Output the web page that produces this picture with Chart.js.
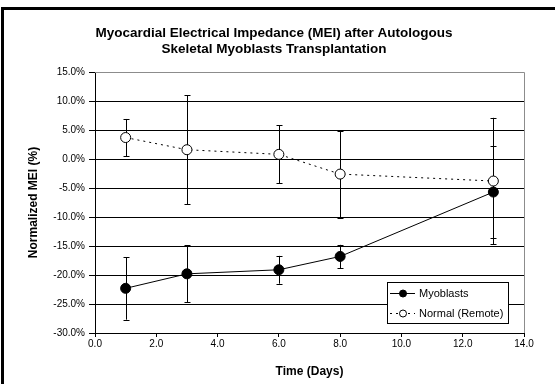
<!DOCTYPE html>
<html>
<head>
<meta charset="utf-8">
<title>MEI after myoblast transplantation</title>
<script src="https://cdn.jsdelivr.net/npm/chart.js@4"></script>
<style>
  body { margin: 0; background: #fff; }
  #wrap { width: 555px; height: 384px; position: relative; }
</style>
</head>
<body>
<div id="wrap"><canvas id="meiChart" width="555" height="384"></canvas></div>
<script>
// days after transplantation
var days = [1, 3, 6, 8, 13];

// normalized MEI, percent, mean and error
var myoblastsMean = [-22.3, -19.8, -19.1, -16.8, -5.7];
var myoblastsErr = [5.4, 4.9, 2.4, 2.0, 8.0];
var remoteMean = [3.7, 1.6, 0.8, -2.6, -3.8];
var remoteErr = [3.2, 9.4, 5.0, 7.5, 10.9];

var titleLines = ['Myocardial Electrical Impedance (MEI) after Autologous', 'Skeletal Myoblasts Transplantation'];
var seriesNames = ['Myoblasts', 'Normal (Remote)'];

var FONT = "'Liberation Sans', Arial, sans-serif";

function toPoints(xs, ys, errs) {
    return xs.map(function (x, i) {
        return {x: x, y: ys[i], err: errs[i]};
    });
}

// frame, plot border and title
var framePlugin = {
    id: 'frame',
    beforeDraw: function (chart) {
        var c = chart.ctx;
        c.save();
        c.fillStyle = '#fff';
        c.fillRect(0, 0, chart.width, chart.height);
        c.fillStyle = '#000';
        c.fillRect(1, 7, chart.width - 1, 3);
        c.fillRect(1, 7, 3, chart.height - 7);

        c.font = 'bold 13.5px ' + FONT;
        c.textAlign = 'center';
        c.textBaseline = 'alphabetic';
        c.fillText(titleLines[0], 274, 37);
        c.fillText(titleLines[1], 274, 53);
        c.restore();
    },
    afterDraw: function (chart) {
        var a = chart.chartArea;
        var c = chart.ctx;
        c.save();
        c.strokeStyle = '#8c8c8c';
        c.lineWidth = 1;
        c.beginPath();
        c.moveTo(a.left, a.top + 0.5);
        c.lineTo(Math.round(a.right) + 0.5, a.top + 0.5);
        c.lineTo(Math.round(a.right) + 0.5, a.bottom);
        c.stroke();
        c.restore();
    }
};

// vertical error bars with caps
var errorBarPlugin = {
    id: 'errorBars',
    beforeDatasetsDraw: function (chart) {
        var c = chart.ctx;
        var xs = chart.scales.x, ys = chart.scales.y;
        c.save();
        c.strokeStyle = '#000';
        c.lineWidth = 1;
        chart.data.datasets.forEach(function (ds) {
            ds.data.forEach(function (p) {
                var px = Math.round(xs.getPixelForValue(p.x)) + 0.5;
                var top = ys.getPixelForValue(p.y + p.err);
                var bot = ys.getPixelForValue(p.y - p.err);
                c.beginPath();
                c.moveTo(px, top);
                c.lineTo(px, bot);
                c.moveTo(px - 3, Math.round(top) + 0.5);
                c.lineTo(px + 3, Math.round(top) + 0.5);
                c.moveTo(px - 3, Math.round(bot) + 0.5);
                c.lineTo(px + 3, Math.round(bot) + 0.5);
                c.stroke();
            });
        });
        c.restore();
    }
};

// boxed legend inside the plot, lower right
var boxLegend = {
    id: 'boxLegend',
    afterDraw: function (chart) {
        var c = chart.ctx;
        var x0 = 387, y0 = 282, w = 121, h = 41;
        c.save();
        c.fillStyle = '#fff';
        c.fillRect(x0, y0, w, h);
        c.strokeStyle = '#000';
        c.lineWidth = 1;
        c.strokeRect(x0 + 0.5, y0 + 0.5, w, h);

        chart.data.datasets.forEach(function (ds, i) {
            var y = y0 + 11.5 + i * 20;
            c.beginPath();
            c.setLineDash(ds.borderDash || []);
            c.moveTo(x0 + 3, y);
            c.lineTo(x0 + 28, y);
            c.strokeStyle = '#000';
            c.stroke();
            c.setLineDash([]);
            c.beginPath();
            c.arc(x0 + 16, y, 3.5, 0, Math.PI * 2);
            c.fillStyle = ds.pointBackgroundColor;
            c.fill();
            c.stroke();
            c.fillStyle = '#000';
            c.font = '11px ' + FONT;
            c.textAlign = 'left';
            c.textBaseline = 'middle';
            c.fillText(ds.label, x0 + 32, y);
        });
        c.restore();
    }
};

var ctx = document.getElementById('meiChart');
new Chart(ctx, {
    type: 'scatter',
    data: {
        datasets: [
            {
                label: seriesNames[0],
                data: toPoints(days, myoblastsMean, myoblastsErr),
                showLine: true,
                borderColor: '#000',
                borderWidth: 1,
                pointRadius: 5,
                pointBackgroundColor: '#000',
                pointBorderColor: '#000',
                pointBorderWidth: 1
            },
            {
                label: seriesNames[1],
                data: toPoints(days, remoteMean, remoteErr),
                showLine: true,
                borderColor: '#000',
                borderWidth: 1,
                borderDash: [2, 4],
                pointRadius: 5,
                pointBackgroundColor: '#fff',
                pointBorderColor: '#000',
                pointBorderWidth: 1
            }
        ]
    },
    options: {
        responsive: false,
        animation: false,
        devicePixelRatio: 1,
        layout: {padding: {left: 26, top: 72, right: 31, bottom: 5}},
        plugins: {
            legend: {display: false},
            title: {display: false},
            tooltip: {enabled: false}
        },
        scales: {
            x: {
                type: 'linear',
                min: 0,
                max: 14,
                ticks: {
                    stepSize: 2,
                    padding: 1,
                    maxRotation: 0,
                    color: '#000',
                    font: {family: FONT, size: 10},
                    callback: function (v) { return v.toFixed(1); }
                },
                grid: {drawOnChartArea: false, tickLength: 4, tickColor: '#000'},
                border: {color: '#000'},
                title: {
                    display: true,
                    text: 'Time (Days)',
                    color: '#000',
                    padding: 0,
                    font: {family: FONT, size: 12, weight: 'bold'}
                },
                afterFit: function (s) { s.height = 46; }
            },
            y: {
                min: -30,
                max: 15,
                ticks: {
                    stepSize: 5,
                    padding: 4,
                    color: '#000',
                    font: {family: FONT, size: 10},
                    callback: function (v) { return v.toFixed(1) + '%'; }
                },
                grid: {
                    color: function (c) { return c.tick && c.tick.value === 15 ? '#8c8c8c' : '#000'; },
                    tickColor: '#000',
                    tickLength: 6
                },
                border: {color: '#000'},
                title: {
                    display: true,
                    text: 'Normalized MEI (%)',
                    color: '#000',
                    padding: 0,
                    font: {family: FONT, size: 12, weight: 'bold'}
                },
                afterFit: function (s) { s.width = 69; }
            }
        }
    },
    plugins: [framePlugin, errorBarPlugin, boxLegend]
});
</script>
</body>
</html>
